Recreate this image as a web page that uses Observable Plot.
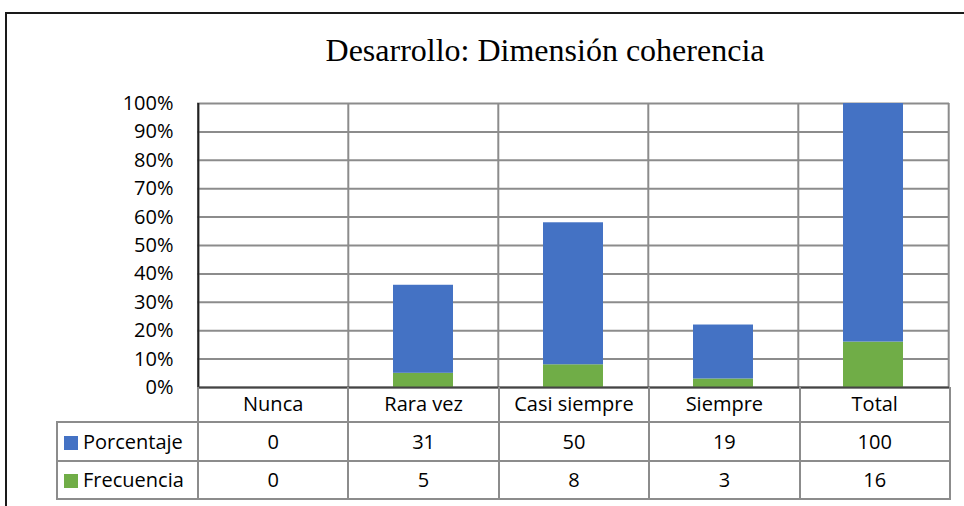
<!DOCTYPE html>
<html>
<head>
<meta charset="utf-8">
<script src="https://cdn.jsdelivr.net/npm/d3@7"></script>
<script src="https://cdn.jsdelivr.net/npm/@observablehq/plot@0.6"></script>
<style>
  html, body { margin: 0; padding: 0; background: #fff; }
  #wrap { position: relative; width: 964px; height: 506px; overflow: hidden; background: #fff; }
  #frame { position: absolute; left: 5px; top: 12px; width: 980px; height: 520px;
           border-top: 2px solid #1a1a1a; border-left: 2px solid #1a1a1a; z-index: 3; }
  #title { position: absolute; left: 0; top: 32px; width: 1090px; text-align: center;
           font-family: "Liberation Serif", "DejaVu Serif", serif; font-size: 32px; color: #000; z-index: 2; }
  #chart { position: absolute; left: 0; top: 0; z-index: 1; }
  #tbl { position: absolute; left: 56px; top: 387px; z-index: 2; border-collapse: collapse; table-layout: fixed;
         font-family: "Open Sans", "Noto Sans", sans-serif; font-size: 20px; color: #000; }
  #tbl td { border: 2px solid #8c8c8c; text-align: center; padding: 0; line-height: 1; }
  #tbl tr.head td { height: 34px; border-top: none; }
  #tbl tr.head td.blank { border: none; border-right: 2px solid #8c8c8c; }
  #tbl tr.r1 td { height: 37px; }
  #tbl tr.r2 td { height: 36px; }
  #tbl td.lab { text-align: left; padding-left: 6px; white-space: nowrap; }
  .sw { display: inline-block; width: 14px; height: 14px; margin-right: 5px; vertical-align: -1px; }
</style>
</head>
<body>
<div id="wrap">
  <div id="frame"></div>
  <div id="title">Desarrollo: Dimensión coherencia</div>
  <div id="chart"></div>
  <table id="tbl"></table>
</div>
<script>
const categories = ["Nunca", "Rara vez", "Casi siempre", "Siempre", "Total"];
const porcentaje = [0, 31, 50, 19, 100];
const frecuencia = [0, 5, 8, 3, 16];
const seriesNames = ["Porcentaje", "Frecuencia"];
const seriesColors = ["#4472C4", "#70AD47"];
const yTicks = [0, 10, 20, 30, 40, 50, 60, 70, 80, 90, 100];

const W = 964, left = 197, right = 949;
const bw = (right - left) / categories.length;

// long-format rows: Frecuencia first so it is stacked at the bottom
const rows = [];
categories.forEach((c, i) => {
  rows.push({cat: c, series: "Frecuencia", value: frecuencia[i]});
  rows.push({cat: c, series: "Porcentaje", value: porcentaje[i]});
});

const chart = Plot.plot({
  width: W,
  height: 400,
  marginLeft: left,
  marginRight: W - right,
  marginTop: 103,
  marginBottom: 13,
  style: {background: "transparent", fontFamily: "'Open Sans', 'Noto Sans', sans-serif", fontSize: "20px", color: "#000"},
  x: {type: "band", domain: categories, padding: 0, axis: null},
  y: {domain: [0, 100], ticks: yTicks, tickFormat: d => d + "%", tickSize: 0, tickPadding: 24, label: null},
  color: {domain: seriesNames, range: seriesColors},
  marks: [
    Plot.gridY(yTicks, {stroke: "#8c8c8c", strokeOpacity: 1, strokeWidth: 2}),
    Plot.ruleX(categories, {x: d => d, dx: -bw / 2, stroke: "#8c8c8c", strokeWidth: 2}),
    Plot.ruleX(categories.slice(-1), {x: d => d, dx: bw / 2, stroke: "#8c8c8c", strokeWidth: 2}),
    Plot.barY(rows, {x: "cat", y: "value", fill: "series", insetLeft: 45, insetRight: 45, clip: true}),
    Plot.ruleX(categories.slice(0, 1), {x: d => d, dx: -bw / 2, stroke: "#222", strokeWidth: 2}),
    Plot.ruleY([0], {stroke: "#444", strokeWidth: 2})
  ]
});
document.getElementById("chart").appendChild(chart);

// data table below the axis
const tbl = document.getElementById("tbl");
const colgroup = document.createElement("colgroup");
const c0 = document.createElement("col"); c0.style.width = (left - 56) + "px"; colgroup.appendChild(c0);
categories.forEach(() => { const c = document.createElement("col"); c.style.width = bw + "px"; colgroup.appendChild(c); });
tbl.appendChild(colgroup);
tbl.style.width = (right - 56) + "px";

const head = document.createElement("tr"); head.className = "head";
const blank = document.createElement("td"); blank.className = "blank"; head.appendChild(blank);
categories.forEach(c => { const td = document.createElement("td"); td.textContent = c; head.appendChild(td); });
tbl.appendChild(head);

[[porcentaje, 0, "r1"], [frecuencia, 1, "r2"]].forEach(([vals, si, cls]) => {
  const tr = document.createElement("tr"); tr.className = cls;
  const lab = document.createElement("td"); lab.className = "lab";
  const sw = document.createElement("span"); sw.className = "sw"; sw.style.background = seriesColors[si];
  lab.appendChild(sw); lab.appendChild(document.createTextNode(seriesNames[si]));
  tr.appendChild(lab);
  vals.forEach(v => { const td = document.createElement("td"); td.textContent = v; tr.appendChild(td); });
  tbl.appendChild(tr);
});
</script>
</body>
</html>
